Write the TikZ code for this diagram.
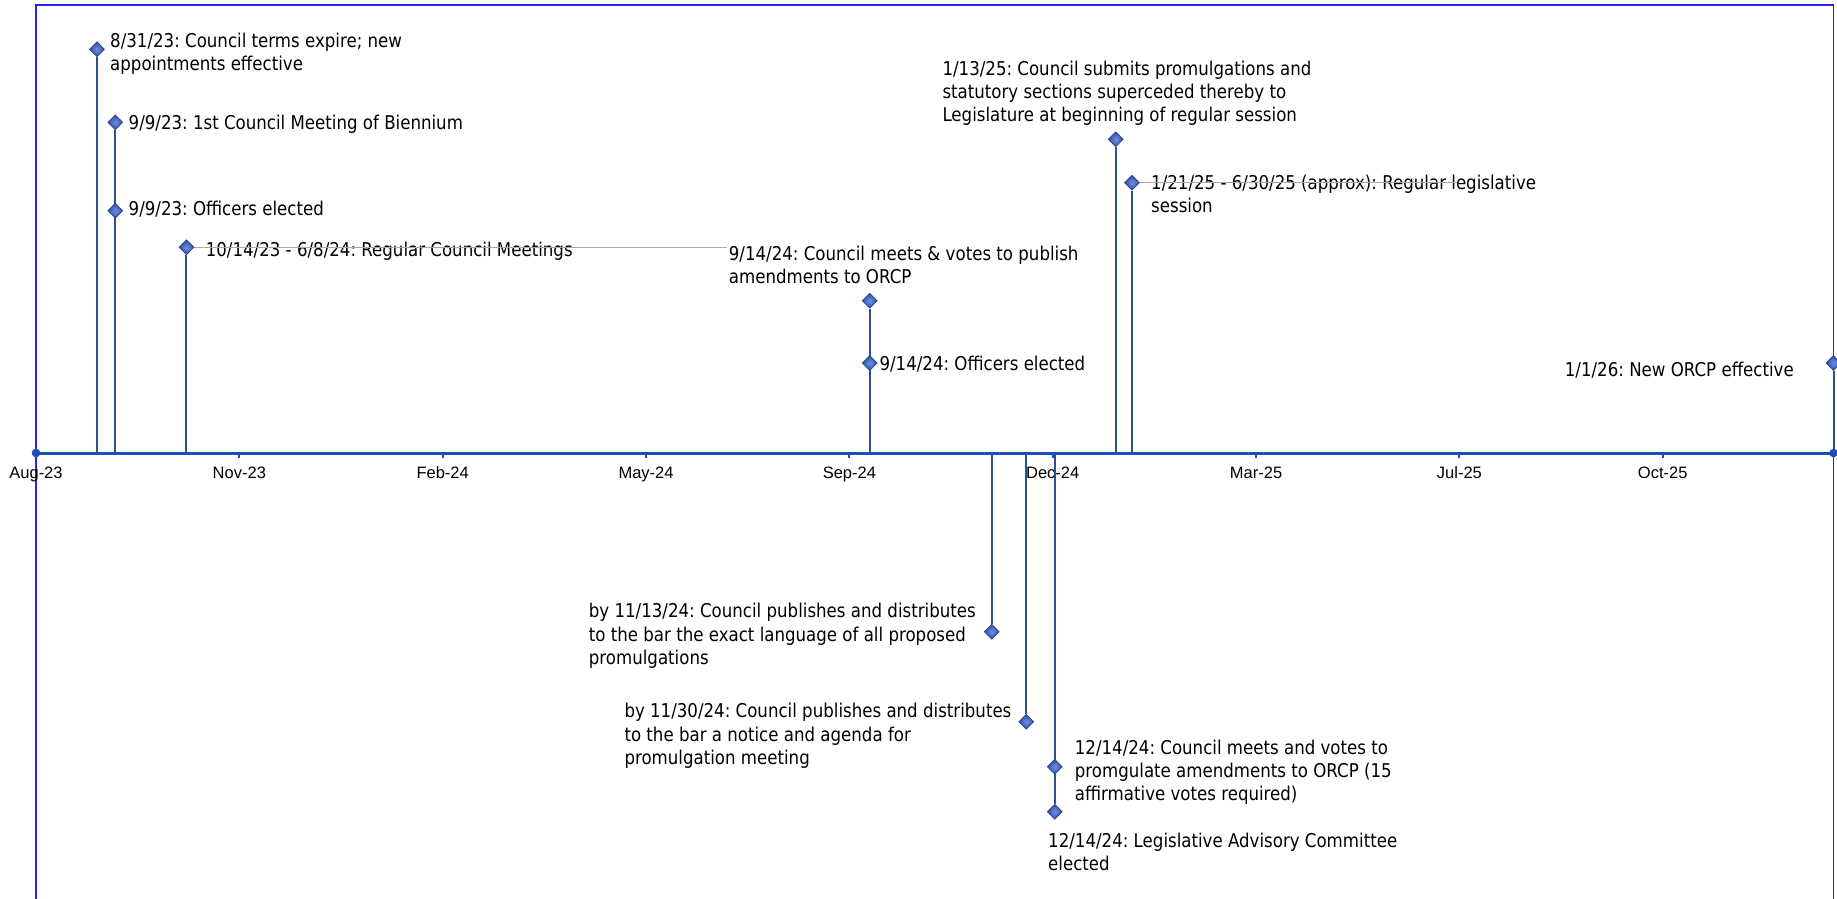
\documentclass[tikz,border=0pt]{standalone}
\usepackage{fontspec}
\setmainfont{DejaVu Sans}[FakeStretch=0.875]
\newfontfamily\axisfont{Liberation Sans}
\frenchspacing
\usetikzlibrary{shapes.geometric,positioning}
\definecolor{frameCol}{HTML}{2424EE}
\definecolor{axisCol}{HTML}{1F4DBA}
\definecolor{stemCol}{HTML}{2C5190}
\definecolor{markIn}{HTML}{6F8FE0}
\definecolor{markOut}{HTML}{2F4FA8}
\definecolor{markEdge}{HTML}{25408E}
\definecolor{spanCol}{HTML}{A8A8A8}
\newcommand{\xo}{36}        % x of 8/1/23
\newcommand{\pday}{2.0334}  % px per day
\newcommand{\axy}{453}
\tikzset{
  frame/.style={draw=frameCol, line width=1.2pt},
  axisline/.style={axisCol, line width=3pt},
  axdot/.style={circle, fill=axisCol, inner sep=0pt, minimum size=8.6pt},
  tickmark/.style={axisCol, line width=2pt},
  monthlbl/.style={anchor=base, inner sep=0pt, font=\axisfont\fontsize{16.5pt}{19pt}\selectfont},
  stem/.style={stemCol, line width=2pt},
  evmark/.style={diamond, draw=markEdge, line width=0.7pt, inner color=markIn, outer color=markOut,
                 inner sep=0pt, minimum size=15pt},
  evtext/.style={anchor=base west, inner sep=0pt, align=left,
                 font=\fontsize{19pt}{23.3pt}\selectfont},
  span/.style={spanCol, line width=1pt},
}
% event: name, days after 8/1/23, height of marker
\newcommand{\ev}[3]{%
  \coordinate (#1b) at ({\xo+\pday*#2},\axy);
  \node[evmark] (#1) at ({\xo+\pday*#2},#3) {};
  \draw[stem] (#1b) -- (#1);}

\begin{document}
\begin{tikzpicture}[x=1pt,y=-1pt]
  \useasboundingbox (0,0) rectangle (1837,899);
  \draw[frame] (36,905) -- (36,5) -- (1833.6,5) -- (1833.6,905);

  % month labels, one every 100 days
  \foreach \k/\m in {0/Aug-23,1/Nov-23,2/Feb-24,3/May-24,4/Sep-24,5/Dec-24,6/Mar-25,7/Jul-25,8/Oct-25}
    \node[monthlbl] (t\k) at ({\xo+100*\pday*\k},478) {\m};

  % labels (base = last line)
  \node[evtext] (l0831) at (110,70.8) {8/31/23: Council terms expire; new\\appointments effective};
  \node[evtext] (l0909a) at (128.5,129) {9/9/23: 1st Council Meeting of Biennium};
  \node[evtext] (l0909b) at (128.5,215.3) {9/9/23: Officers elected};
  \node[evtext] (l1014) at (205.6,256.3) {10/14/23 - 6/8/24: Regular Council Meetings};
  \node[evtext] (l0914a) at (728.7,283.6) {9/14/24: Council meets \& votes to publish\\amendments to ORCP};
  \node[evtext] (l0914b) at (879.3,370) {9/14/24: Officers elected};
  \node[evtext] (l0113) at (942.3,121.9) {1/13/25: Council submits promulgations and\\statutory sections superceded thereby to\\Legislature at beginning of regular session};
  \node[evtext] (l0121) at (1151,212.3) {1/21/25 - 6/30/25 (approx): Regular legislative\\session};
  \node[evtext, anchor=base east] (l0101) at (1794,376.3) {1/1/26: New ORCP effective};
  \node[evtext] (l1113) at (588.7,664.3) {by 11/13/24: Council publishes and distributes\\to the bar the exact language of all proposed\\promulgations};
  \node[evtext] (l1130) at (624.3,764.3) {by 11/30/24: Council publishes and distributes\\to the bar a notice and agenda for\\promulgation meeting};
  \node[evtext] (l1214a) at (1074.7,800.9) {12/14/24: Council meets and votes to\\promgulate amendments to ORCP (15\\affirmative votes required)};
  \node[evtext] (l1214b) at (1048,870.3) {12/14/24: Legislative Advisory Committee\\elected};

  % events
  \ev{m0831}{30}{49.3}
  \ev{m0909a}{39}{122.3}
  \ev{m0909b}{39}{210.7}
  \ev{m1014}{74}{247.3}
  \ev{m0914a}{410}{300.7}
  \ev{m0914b}{410}{363}
  \ev{m1113}{470}{631.7}
  \ev{m1130}{487}{721.7}
  \ev{m1214b}{501}{811.7}
  \ev{m1214a}{501}{766.7}
  \ev{m0113}{531}{139.3}
  \ev{m0121}{539}{182.7}
  \ev{m0101}{884}{363}

  % spans of the meetings and the session
  \coordinate (e1014) at ({\xo+\pday*340},0);
  \coordinate (e0121) at ({\xo+\pday*699},0);
  \draw[span] (m1014.east) -- (m1014.east -| e1014);
  \draw[span] (m0121.east) -- (m0121.east -| e0121);

  % axis
  \node[axdot] (ax0) at (\xo,\axy) {};
  \node[axdot] (ax1) at ({\xo+\pday*884},\axy) {};
  \draw[axisline] (ax0.center) -- (ax1.center);
  \foreach \k in {1,...,8}
    \draw[tickmark] ({\xo+100*\pday*\k},\axy) -- ++(0,4.5);
\end{tikzpicture}
\end{document}
